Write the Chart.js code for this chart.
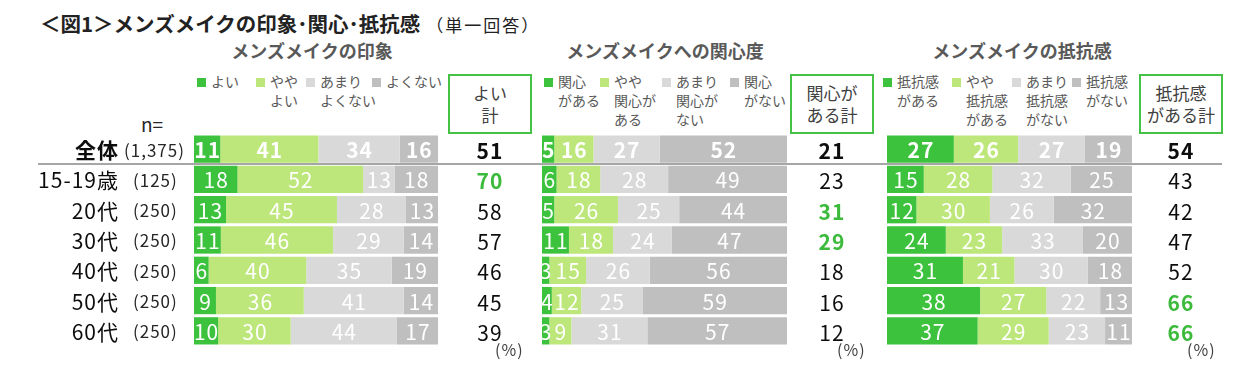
<!DOCTYPE html>
<html lang="ja">
<head>
<meta charset="utf-8">
<script src="https://cdn.jsdelivr.net/npm/chart.js@4/dist/chart.umd.min.js"></script>
<style>
  body { margin: 0; background: #fff; font-family: "Noto Sans CJK JP", "Noto Sans", sans-serif; }
  #wrap { position: relative; width: 1238px; height: 373px; overflow: hidden; }
  #wrap canvas { position: absolute; top: 134px; }
  .abs { position: absolute; white-space: nowrap; }
  .title { left: 40px; top: 8px; font-size: 20.5px; font-weight: bold; color: #222; }
  .title small { font-size: 17px; font-weight: normal; margin-left: 6px; letter-spacing: 2px; }
  .sub { top: 37px; font-size: 18px; font-weight: bold; color: #595959; transform: translateX(-50%); }
  .leg { top: 72px; font-size: 14px; line-height: 19px; color: #595959; }
  .leg i { position: absolute; left: 0; top: 6px; width: 9px; height: 9px; }
  .leg span { position: absolute; left: 14px; top: 0; white-space: pre; }
  .box { top: 74px; height: 56px; border: 2px solid #46c246; color: #404040; font-size: 17px;
         line-height: 22px; text-align: center; display: flex; align-items: center; justify-content: center; white-space: pre; }
  .n { left: 141px; top: 110px; font-size: 19px; color: #262626; }
  .pct { top: 337px; font-size: 16px; color: #404040; letter-spacing: 1px; }
  #sep { position: absolute; left: 38px; top: 163px; width: 1184px; height: 2px; background: #a6a6a6; z-index: 2; }
</style>
</head>
<body>
<div id="wrap">
  <div class="abs title">＜図1＞メンズメイクの印象･関心･抵抗感<small>（単一回答）</small></div>
  <div class="abs n">n=</div>
  <div id="sep"></div>
</div>
<script>
const rowLabels = ["全体", "15-19歳", "20代", "30代", "40代", "50代", "60代"];
const rowN = ["(1,375)", "(125)", "(250)", "(250)", "(250)", "(250)", "(250)"];

// メンズメイクの印象
const impressionSeries = ["よい", "やや\nよい", "あまり\nよくない", "よくない"];
const impressionGood = [11, 18, 13, 11, 6, 9, 10];
const impressionFair = [41, 52, 45, 46, 40, 36, 30];
const impressionNotVery = [34, 13, 28, 29, 35, 41, 44];
const impressionBad = [16, 18, 13, 14, 19, 14, 17];
const impressionTotal = [51, 70, 58, 57, 46, 45, 39];
const impressionHighlight = [1];

// メンズメイクへの関心度
const interestSeries = ["関心\nがある", "やや\n関心が\nある", "あまり\n関心が\nない", "関心\nがない"];
const interestYes = [5, 6, 5, 11, 3, 4, 3];
const interestSome = [16, 18, 26, 18, 15, 12, 9];
const interestLittle = [27, 28, 25, 24, 26, 25, 31];
const interestNo = [52, 49, 44, 47, 56, 59, 57];
const interestTotal = [21, 23, 31, 29, 18, 16, 12];
const interestHighlight = [2, 3];

// メンズメイクの抵抗感
const resistSeries = ["抵抗感\nがある", "やや\n抵抗感\nがある", "あまり\n抵抗感\nがない", "抵抗感\nがない"];
const resistYes = [27, 15, 12, 24, 31, 38, 37];
const resistSome = [26, 28, 30, 23, 21, 27, 29];
const resistLittle = [27, 32, 26, 33, 30, 22, 23];
const resistNo = [19, 25, 32, 20, 18, 13, 11];
const resistTotal = [54, 43, 42, 47, 52, 66, 66];
const resistHighlight = [5, 6];

const colors = ["#3dc23d", "#bde77b", "#d9d9d9", "#bfbfbf"];
const green = "#3cba3c";
const FONT = '"Noto Sans CJK JP", "Noto Sans", sans-serif';

const wrap = document.getElementById("wrap");

function addDiv(cls, css, html) {
  const d = document.createElement("div");
  d.className = "abs " + cls;
  Object.assign(d.style, css);
  d.innerHTML = html;
  wrap.appendChild(d);
  return d;
}

const rowLabelPlugin = {
  id: "rowLabels",
  afterDraw(chart) {
    const ctx = chart.ctx;
    const y = chart.scales.y;
    ctx.save();
    ctx.textBaseline = "middle";
    rowLabels.forEach((lab, i) => {
      const py = y.getPixelForValue(i) + 1;
      ctx.fillStyle = "#0d0d0d";
      ctx.textAlign = "right";
      ctx.letterSpacing = "1px";
      ctx.font = (i === 0 ? "bold " : "") + "21px " + FONT;
      ctx.fillText(lab, 119, py);
      ctx.textAlign = "left";
      ctx.fillStyle = "#262626";
      ctx.font = "17px " + FONT;
      ctx.fillText(rowN[i], i === 0 ? 124 : 133, py);
    });
    ctx.restore();
  },
};

const valuePlugin = {
  id: "values",
  afterDatasetsDraw(chart, args, opts) {
    const ctx = chart.ctx;
    ctx.save();
    ctx.textAlign = "center";
    ctx.textBaseline = "middle";
    ctx.letterSpacing = "1px";
    ctx.fillStyle = "#fff";
    chart.data.datasets.forEach((ds, di) => {
      chart.getDatasetMeta(di).data.forEach((bar, i) => {
        ctx.font = (i === 0 ? "bold " : "") + "21px " + FONT;
        ctx.fillText(ds.shown[i], (bar.x + bar.base) / 2 + 0.5, bar.y + 1);
      });
    });
    const y = chart.scales.y;
    opts.totals.forEach((t, i) => {
      const hi = opts.highlight.includes(i);
      ctx.fillStyle = hi ? green : "#0d0d0d";
      ctx.font = (i === 0 || hi ? "bold " : "") + "21px " + FONT;
      ctx.fillText(t, opts.totalX, y.getPixelForValue(i) + 2);
    });
    ctx.restore();
  },
};

function makePanel(p) {
  const canvas = document.createElement("canvas");
  canvas.width = p.width;
  canvas.height = 212;
  canvas.style.left = p.left + "px";
  wrap.appendChild(canvas);

  // each row is drawn as a share of its own sum so every bar reaches 100%
  const sums = rowLabels.map((_, i) => p.series.reduce((s, arr) => s + arr[i], 0));
  const datasets = p.series.map((arr, k) => ({
    label: p.names[k].replace(/\n/g, ""),
    data: arr.map((v, i) => (v / sums[i]) * 100),
    shown: arr,
    backgroundColor: colors[k],
    borderWidth: 0,
    barPercentage: 0.9,
    categoryPercentage: 1,
  }));

  new Chart(canvas, {
    type: "bar",
    data: { labels: rowLabels, datasets },
    options: {
      indexAxis: "y",
      responsive: false,
      animation: false,
      layout: { padding: { left: p.padLeft, right: p.padRight, top: 0, bottom: 0 } },
      scales: {
        x: { stacked: true, min: 0, max: 100, display: false },
        y: { stacked: true, display: false },
      },
      plugins: {
        legend: { display: false },
        tooltip: { enabled: false },
        values: { totals: p.totals, highlight: p.highlight, totalX: p.totalX },
      },
    },
    plugins: p.extra ? [valuePlugin, p.extra] : [valuePlugin],
  });

  addDiv("sub", { left: p.subX + "px" }, p.subtitle);
  p.names.forEach((name, k) => {
    const d = addDiv("leg", { left: p.legX[k] + "px" }, "");
    const sq = document.createElement("i");
    sq.style.background = colors[k];
    const tx = document.createElement("span");
    tx.textContent = name;
    d.appendChild(sq);
    d.appendChild(tx);
  });
  addDiv("box", { left: p.boxX + "px", width: p.boxW + "px" }, p.boxText);
  addDiv("pct", { left: p.pctX + "px" }, "(%)");
}

makePanel({
  left: 0, width: 530, padLeft: 194, padRight: 92, totalX: 490,
  series: [impressionGood, impressionFair, impressionNotVery, impressionBad],
  names: impressionSeries, totals: impressionTotal, highlight: impressionHighlight,
  subtitle: "メンズメイクの印象", subX: 312, legX: [197, 256, 306, 372],
  boxX: 448, boxW: 80, boxText: "よい\n計", pctX: 495, extra: rowLabelPlugin,
});
makePanel({
  left: 530, width: 350, padLeft: 12, padRight: 93, totalX: 302,
  series: [interestYes, interestSome, interestLittle, interestNo],
  names: interestSeries, totals: interestTotal, highlight: interestHighlight,
  subtitle: "メンズメイクへの関心度", subX: 665, legX: [544, 600, 662, 730],
  boxX: 790, boxW: 80, boxText: "関心が\nある計", pctX: 837,
});
makePanel({
  left: 880, width: 358, padLeft: 7, padRight: 106, totalX: 301,
  series: [resistYes, resistSome, resistLittle, resistNo],
  names: resistSeries, totals: resistTotal, highlight: resistHighlight,
  subtitle: "メンズメイクの抵抗感", subX: 1022, legX: [883, 952, 1012, 1072],
  boxX: 1139, boxW: 80, boxText: "抵抗感\nがある計", pctX: 1187,
});
</script>
</body>
</html>
